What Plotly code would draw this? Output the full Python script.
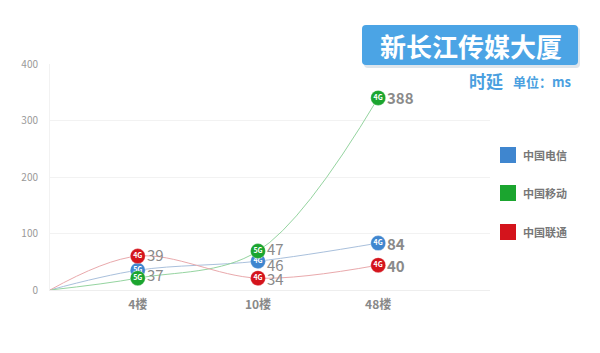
import plotly.graph_objects as go

floors = ["4楼", "10楼", "48楼"]
floor_pos = [1, 2, 3]
origin_pos = 0.27

telecom = [35, 51, 83]
telecom_text = ["37", "46", "84"]
telecom_gen = ["5G", "4G", "4G"]

mobile = [21, 69, 340]
mobile_text = ["", "47", "388"]
mobile_gen = ["5G", "5G", "4G"]

unicom = [60, 21, 44]
unicom_text = ["39", "34", "40"]
unicom_gen = ["4G", "4G", "4G"]

names = ["中国电信", "中国移动", "中国联通"]
colors = ["#3f86cf", "#1ba52f", "#d4141c"]
line_colors = ["#a9c0dc", "#95d4a0", "#e9a9ac"]

series = [
    (telecom, telecom_text, telecom_gen),
    (mobile, mobile_text, mobile_gen),
    (unicom, unicom_text, unicom_gen),
]

FONT = "Noto Sans CJK SC"
fig = go.Figure()

# lines
for (vals, _, _), lc, nm in zip(series, line_colors, names):
    fig.add_trace(go.Scatter(
        x=[origin_pos] + floor_pos, y=[0] + vals, mode="lines",
        line=dict(color=lc, width=1, shape="spline", smoothing=1.0),
        showlegend=False, hoverinfo="skip", name=nm))

# markers with generation text
for (vals, _, gen), c, nm in zip(series, colors, names):
    fig.add_trace(go.Scatter(
        x=floor_pos, y=vals, mode="markers+text", text=gen,
        textposition="middle center",
        textfont=dict(family=FONT, size=7, color="white", weight="bold"),
        marker=dict(size=15, color=c, line=dict(color="rgba(255,255,255,0.6)", width=0.5)),
        showlegend=False, name=nm))

# value labels
label_shift = {"37": -4, "47": 3, "46": -3, "39": 2}
for (vals, txt, _) in series:
    for xp, v, t in zip(floor_pos, vals, txt):
        if not t:
            continue
        fig.add_annotation(
            x=xp, y=v, text=t, showarrow=False, xanchor="left", yanchor="middle",
            xshift=8, yshift=label_shift.get(t, 0), borderpad=0,
            font=dict(family=FONT, size=15, color="#8a8a8a",
                      weight="bold" if xp == 3 else "normal"))

# title box
x0, x1, y0, y1 = 362, 578, 25, 65
def px(x):
    return (x - 50) / 440
def py(y):
    return (290 - y) / 226
r = 4
rx, ry = r / 440, r / 226
def rounded(xa, xb, ya, yb):
    X0, X1, Y0, Y1 = px(xa), px(xb), py(yb), py(ya)
    return (f"M {X0+rx},{Y0} L {X1-rx},{Y0} Q {X1},{Y0} {X1},{Y0+ry} "
            f"L {X1},{Y1-ry} Q {X1},{Y1} {X1-rx},{Y1} L {X0+rx},{Y1} "
            f"Q {X0},{Y1} {X0},{Y1-ry} L {X0},{Y0+ry} Q {X0},{Y0} {X0+rx},{Y0} Z")
fig.add_shape(type="path", xref="paper", yref="paper", path=rounded(x0 + 2, x1 + 2, y0 + 2, y1 + 3),
              fillcolor="rgba(120,150,180,0.25)", line=dict(width=0), layer="above")
fig.add_shape(type="path", xref="paper", yref="paper", path=rounded(x0, x1, y0, y1),
              fillcolor="#4ba4e5", line=dict(width=0), layer="above")
fig.add_annotation(xref="paper", yref="paper", x=px(471), y=py(45), text="新长江传媒大厦",
                   showarrow=False, xanchor="center", yanchor="middle",
                   font=dict(family=FONT, size=26, color="white", weight="bold"))
fig.add_annotation(xref="paper", yref="paper", x=px(467), y=py(80), text="时延",
                   showarrow=False, xanchor="left", yanchor="middle",
                   font=dict(family=FONT, size=17, color="#4a9fe0", weight="bold"))
fig.add_annotation(xref="paper", yref="paper", x=px(511), y=py(81), text="单位：ms",
                   showarrow=False, xanchor="left", yanchor="middle",
                   font=dict(family=FONT, size=13, color="#4a9fe0", weight="bold"))

# legend
leg_y = [155, 193, 232]
for nm, c, ly in zip(names, colors, leg_y):
    fig.add_shape(type="rect", xref="paper", yref="paper",
                  x0=px(500), x1=px(516), y0=py(ly + 8), y1=py(ly - 8),
                  fillcolor=c, line=dict(width=0))
    fig.add_annotation(xref="paper", yref="paper", x=px(521), y=py(ly), text=nm,
                       showarrow=False, xanchor="left", yanchor="middle",
                       font=dict(family=FONT, size=11, color="#777777", weight="bold"))

fig.update_layout(
    width=600, height=353,
    margin=dict(l=50, r=110, t=64, b=63),
    paper_bgcolor="white", plot_bgcolor="white",
    font=dict(family=FONT),
    xaxis=dict(range=[origin_pos, 3.93], tickvals=floor_pos, ticktext=floors,
               showgrid=False, zeroline=False, showline=True, linecolor="#eeeeee",
               tickfont=dict(family=FONT, size=12, color="#888888", weight="bold"),
               ticks="", ticklabelstandoff=4, fixedrange=True),
    yaxis=dict(range=[0, 400], tickvals=[0, 100, 200, 300, 400],
               showgrid=True, gridcolor="#f2f2f2", zeroline=False,
               showline=True, linecolor="#f2f2f2",
               tickfont=dict(family=FONT, size=10, color="#999999"),
               ticks="", ticklabelstandoff=9),
)

fig.write_html("out.html")
